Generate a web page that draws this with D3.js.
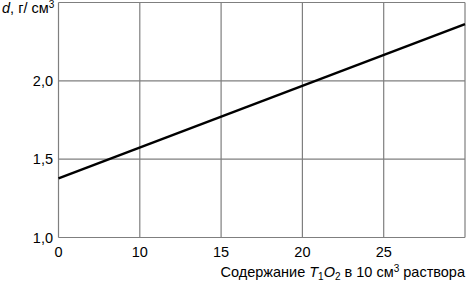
<!DOCTYPE html>
<html>
<head>
<meta charset="utf-8">
<script src="https://cdn.jsdelivr.net/npm/d3@7"></script>
<style>
  body { margin: 0; background: #fff; }
  text { font-family: "Liberation Sans", Arial, sans-serif; }
</style>
</head>
<body>
<div id="chart"></div>
<script>
// grid positions along x (equally spaced), and the labels printed under them
const xTicks = [5, 10, 15, 20, 25];
const xTickLabels = ["0", "10", "15", "20", "25"];
const yTicks = [1.0, 1.5, 2.0];
const yTickLabels = ["1,0", "1,5", "2,0"];

// density line
const lineX = [5, 30];
const lineY = [1.377, 2.362];

const width = 467, height = 284;
const margin = { top: 2.5, right: 2, bottom: 46.5, left: 58.5 };

const svg = d3.select("#chart").append("svg")
  .attr("width", width)
  .attr("height", height);

const x = d3.scaleLinear().domain([5, 30]).range([margin.left, width - margin.right]);
const y = d3.scaleLinear().domain([1.0, 2.5]).range([height - margin.bottom, margin.top]);

// grid
svg.append("g")
  .selectAll("line")
  .data(xTicks.concat([30]))
  .join("line")
  .attr("x1", d => x(d)).attr("x2", d => x(d))
  .attr("y1", y(1.0)).attr("y2", y(2.5))
  .attr("stroke", "#7f7f7f").attr("stroke-width", 1.2);

svg.append("g")
  .selectAll("line")
  .data(yTicks.concat([2.5]))
  .join("line")
  .attr("x1", x(5)).attr("x2", x(30))
  .attr("y1", d => y(d)).attr("y2", d => y(d))
  .attr("stroke", "#7f7f7f").attr("stroke-width", 1.2);

// tick labels
svg.append("g")
  .selectAll("text")
  .data(xTicks)
  .join("text")
  .attr("x", d => x(d))
  .attr("y", 257)
  .attr("text-anchor", "middle")
  .attr("font-size", "14.5px")
  .attr("fill", "#000")
  .text((d, i) => xTickLabels[i]);

svg.append("g")
  .selectAll("text")
  .data(yTicks)
  .join("text")
  .attr("x", 53)
  .attr("y", d => y(d) + 5)
  .attr("text-anchor", "end")
  .attr("font-size", "14.5px")
  .attr("fill", "#000")
  .text((d, i) => yTickLabels[i]);

// the line
const pts = lineX.map((d, i) => [d, lineY[i]]);
svg.append("path")
  .datum(pts)
  .attr("fill", "none")
  .attr("stroke", "#000")
  .attr("stroke-width", 2.4)
  .attr("d", d3.line().x(d => x(d[0])).y(d => y(d[1])));

// y axis title
const yt = svg.append("text")
  .attr("x", 2).attr("y", 13)
  .attr("font-size", "14.5px");
yt.append("tspan").attr("font-style", "italic").text("d");
yt.append("tspan").text(", г/ см");
yt.append("tspan").attr("font-size", "10px").attr("dy", -5).text("3");

// x axis title
const xt = svg.append("text")
  .attr("x", 465).attr("y", 277)
  .attr("text-anchor", "end")
  .attr("font-size", "14.5px");
xt.append("tspan").text("Содержание ");
xt.append("tspan").attr("font-style", "italic").text("T");
xt.append("tspan").attr("font-size", "10px").attr("dy", 3).text("1");
xt.append("tspan").attr("font-style", "italic").attr("dy", -3).text("O");
xt.append("tspan").attr("font-size", "10px").attr("dy", 3).text("2");
xt.append("tspan").attr("dy", -3).text(" в 10 см");
xt.append("tspan").attr("font-size", "10px").attr("dy", -5).text("3");
xt.append("tspan").attr("dy", 5).text(" раствора");
</script>
</body>
</html>
